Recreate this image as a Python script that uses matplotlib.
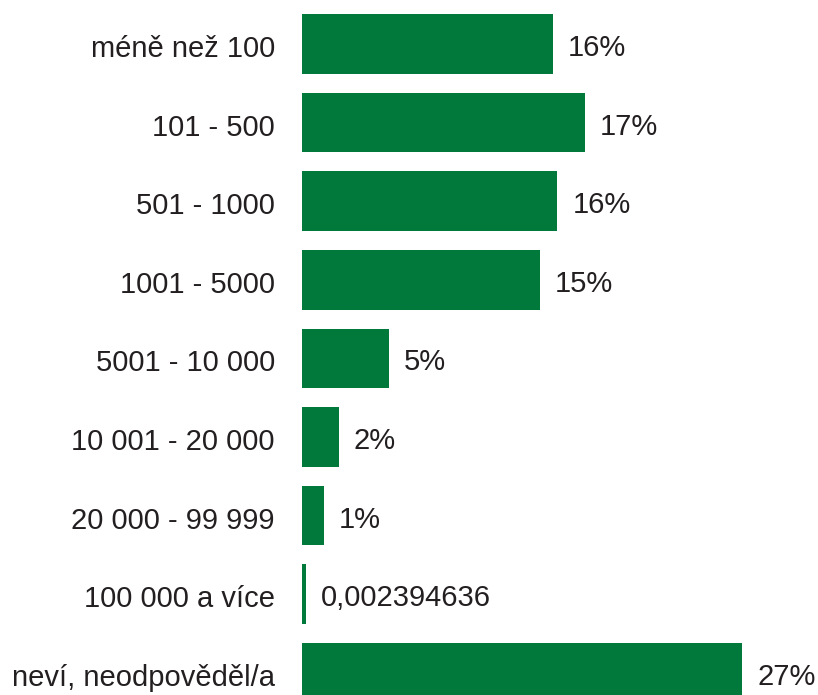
import matplotlib.pyplot as plt
from matplotlib.transforms import ScaledTranslation

categories = ["méně než 100", "101 - 500", "501 - 1000", "1001 - 5000",
              "5001 - 10 000", "10 001 - 20 000", "20 000 - 99 999",
              "100 000 a více", "neví, neodpověděl/a"]
values = [0.156, 0.176, 0.159, 0.148, 0.054, 0.023, 0.0137, 0.002394636, 0.274]
labels = ["16%", "17%", "16%", "15%", "5%", "2%", "1%", "0,002394636", "27%"]

plt.rcParams['font.family'] = ['Liberation Sans', 'DejaVu Sans']
green = "#00793a"
txt = "#231f20"
fs = 21

fig = plt.figure(figsize=(8.18, 6.95), dpi=100)
W, H = 818, 695
x0 = 302
scale = 1606  # px per unit
xmax = 0.30
ax = fig.add_axes([x0 / W, 0, xmax * scale / W, 1])

ypos = list(range(len(categories)))
ax.barh(ypos, values, height=0.76, color=green)

for y, v, lab in zip(ypos, values, labels):
    ax.annotate(lab, (v, y), xytext=(15, -4), textcoords="offset pixels",
                va="center", ha="left", fontsize=fs, color=txt)

# pixel rows: first bar centre 44, step 78.6
top = -44 / 78.6
bottom = (H - 44) / 78.6
ax.set_ylim(bottom, top)
ax.set_xlim(0, xmax)
ax.set_yticks(ypos)
ax.set_yticklabels(categories, fontsize=fs, color=txt)
ax.tick_params(axis="y", length=0, pad=19.5)
shift = ScaledTranslation(0, -2 / 100, fig.dpi_scale_trans)
for t in ax.get_yticklabels():
    t.set_transform(t.get_transform() + shift)
ax.set_xticks([])
for s in ax.spines.values():
    s.set_visible(False)

fig.savefig("out.png", dpi=100)
